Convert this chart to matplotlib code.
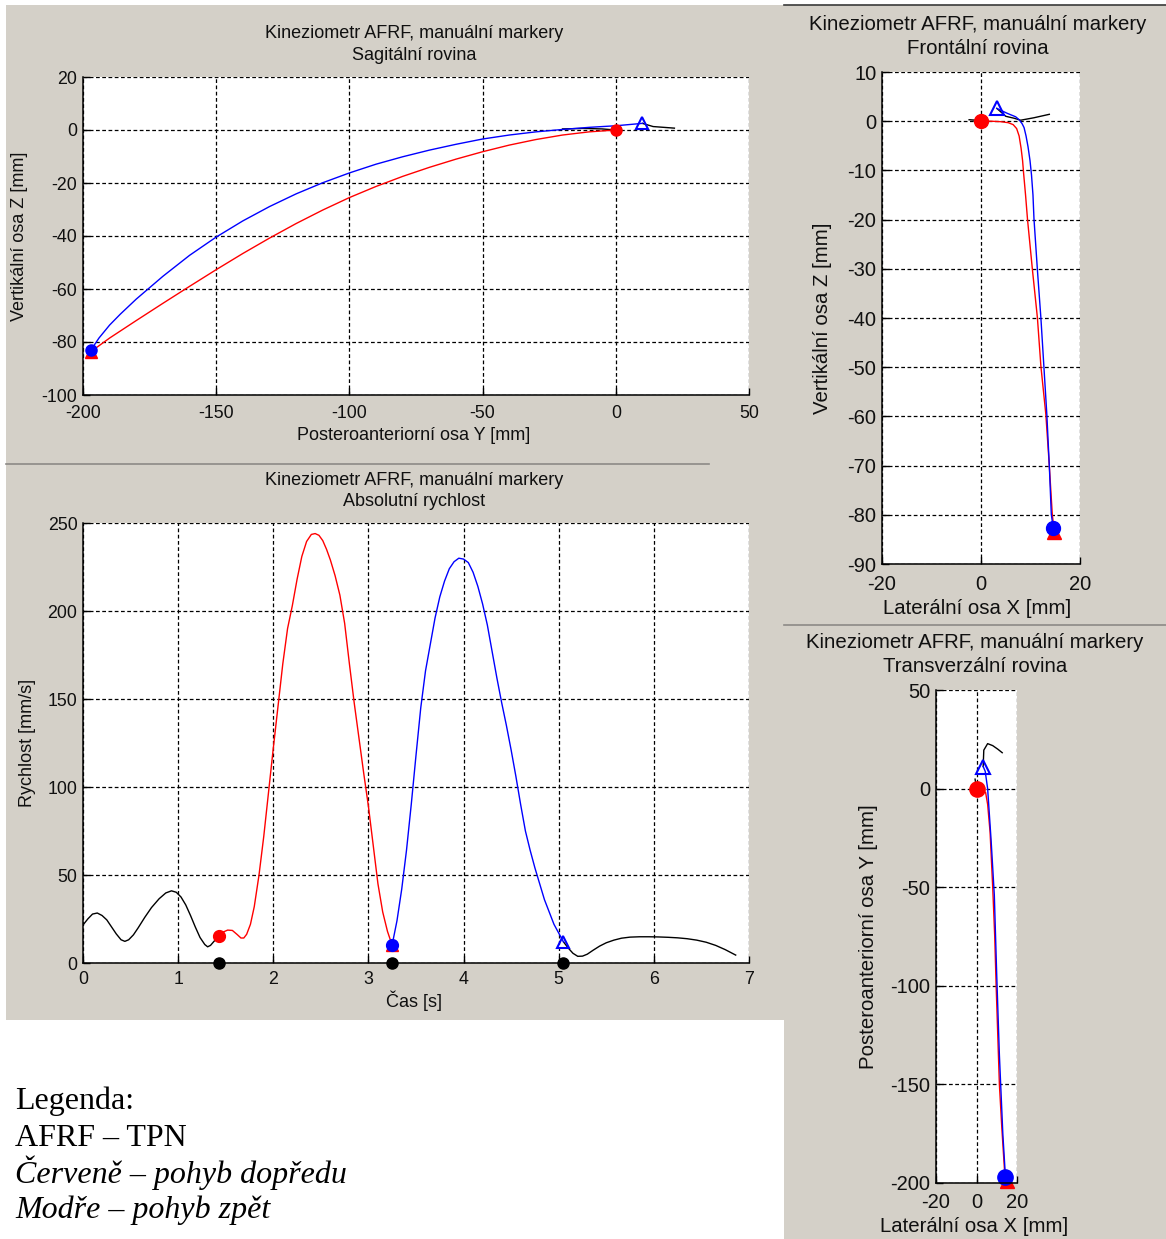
import matplotlib
matplotlib.use("Agg")
import matplotlib.pyplot as plt
from matplotlib.patches import Rectangle
from matplotlib.lines import Line2D

plt.rcParams['font.family'] = ['Liberation Sans', 'DejaVu Sans']
plt.rcParams['axes.unicode_minus'] = False

W, H = 1166, 1239
GRAY = '#d4d0c8'

# --- sagittal plane (Y, Z) [mm]
sag_red_y = [0, -10, -20, -30, -40, -50, -60, -70, -80, -90, -100, -110, -120, -130, -140, -150,
             -160, -170, -180, -190, -197]
sag_red_z = [0, -0.7, -1.9, -3.6, -5.7, -8.2, -11.0, -14.1, -17.5, -21.3, -25.5, -30.2, -35.3, -40.8,
             -46.6, -52.7, -59.0, -65.4, -71.9, -78.5, -83.6]
sag_blue_y = [-197, -194, -190, -186, -180, -170, -160, -150, -140, -130, -120, -110, -100, -90, -80,
              -70, -60, -50, -40, -30, -20, -10, 0, 10]
sag_blue_z = [-83, -78.5, -73.6, -69.5, -63.8, -55.2, -47.3, -40.4, -34.3, -28.9, -24.1, -19.9, -16.2,
              -12.9, -10.1, -7.6, -5.4, -3.4, -1.9, -0.7, 0.2, 1.0, 1.6, 2.5]
sag_pre_y = [-20, -12, -5, 0]
sag_pre_z = [0.4, 0.6, 0.4, 0]
sag_post_y = [10, 14, 18, 22]
sag_post_z = [2.5, 1.3, 1.0, 0.7]

# --- frontal plane (X, Z) [mm]
fr_red_x = [0, 2, 4, 5.5, 6.5, 7.2, 7.7, 8.1, 8.4, 8.6, 9.0, 9.4, 10.4, 11.4, 12.1, 13.1, 13.8, 14.4, 14.8]
fr_red_z = [0, 0, -0.1, -0.3, -0.7, -1.5, -3, -5.5, -8, -10.5, -15, -20, -30.3, -40, -49.8, -59.6, -70,
            -79.9, -83.5]
fr_blue_x = [14.6, 14.2, 13.8, 13.3, 12.7, 12.1, 11.4, 10.7, 10.5, 10.2, 9.9, 9.5, 9.1, 8.7, 8.3, 7.7,
             7.0, 5.3, 3.2]
fr_blue_z = [-82.7, -79.9, -70, -59.6, -49.8, -40, -30.3, -19.8, -15, -10.9, -8, -5.2, -3, -1.3, -0.5,
             0.3, 0.9, 1.6, 2.6]
fr_pre_x = [-2.4, -1, 0]
fr_pre_z = [0.3, 0.2, 0]
fr_post_x = [3.2, 5.0, 6.7, 8.0, 10.7, 13.8]
fr_post_z = [2.6, 1.0, 0.6, 0.2, 0.7, 1.4]

# --- transverse plane (X, Y) [mm]
tr_red_x = [0, 2.5, 4.5, 5.5, 6.7, 8, 9, 9.7, 10.5, 11.3, 12.5, 13.8, 15]
tr_red_y = [0, -0.3, -2, -8, -22, -50, -75, -100, -125, -150, -172, -193, -199]
tr_blue_x = [14.3, 13, 11.3, 10, 8.8, 7.2, 5.5, 4.3, 3.3]
tr_blue_y = [-197, -175, -135, -95, -54, -26, 0, 8.8, 11.2]
tr_pre_x = [-0.7, 0]
tr_pre_y = [4.8, 0]
tr_post_x = [3.3, 3.6, 5.5, 8, 10.5, 12.7]
tr_post_y = [11.2, 19.5, 22.8, 21.8, 20, 18.2]

# --- absolute speed [mm/s] over time [s]
sp_pre_t = [0, 0.05, 0.10, 0.15, 0.20, 0.25, 0.30, 0.35, 0.40, 0.44, 0.48, 0.53, 0.58, 0.65, 0.72,
            0.80, 0.87, 0.93, 0.98, 1.03, 1.08, 1.13, 1.18, 1.23, 1.28, 1.31, 1.34, 1.38, 1.43]
sp_pre_v = [21.6, 25, 27.8, 28.4, 27.0, 24.5, 20.5, 16.5, 13.2, 12.3, 13.2, 16.0, 20.0, 26.0, 31.5,
            36.5, 39.8, 41, 40.2, 37.5, 33, 27, 20.5, 14.5, 10.5, 9.2, 10, 12.5, 15.4]
sp_red_t = [1.43, 1.47, 1.52, 1.57, 1.62, 1.66, 1.69, 1.72, 1.76, 1.80, 1.85, 1.90, 1.95, 2.00, 2.05,
            2.10, 2.15, 2.20, 2.25, 2.30, 2.35, 2.40, 2.44, 2.48, 2.52, 2.56, 2.60, 2.65, 2.70, 2.75,
            2.80, 2.85, 2.90, 2.95, 3.00, 3.05, 3.10, 3.15, 3.20, 3.25]
sp_red_v = [15.4, 17.5, 18.7, 18.5, 16.2, 14.2, 14.2, 16.3, 22, 32, 50, 72, 97, 122, 146,
            170, 190, 203, 218, 231, 239.5, 243.5, 244, 243, 240, 235, 229, 220, 209, 193,
            170, 148, 128, 108, 89, 67, 45, 29, 18, 10]
sp_blue_t = [3.25, 3.30, 3.35, 3.40, 3.45, 3.50, 3.55, 3.60, 3.65, 3.70, 3.75, 3.80, 3.85, 3.90, 3.95,
             4.00, 4.05, 4.10, 4.15, 4.20, 4.25, 4.30, 4.35, 4.40, 4.45, 4.50, 4.55, 4.60, 4.65, 4.70,
             4.75, 4.80, 4.85, 4.90, 4.95, 5.00, 5.05]
sp_blue_v = [10.5, 24, 42, 64, 90, 118, 145, 166, 181, 196, 208, 217, 224, 228, 230,
             229.5, 227.5, 222, 214, 204, 192, 177, 162, 148, 135, 121, 106, 90, 75, 64,
             54, 45, 36, 29, 22, 17, 12]
sp_post_t = [5.05, 5.10, 5.15, 5.20, 5.25, 5.30, 5.36, 5.43, 5.50, 5.58, 5.66, 5.75, 5.85, 5.95, 6.05,
             6.15, 6.25, 6.35, 6.45, 6.55, 6.65, 6.75, 6.86]
sp_post_v = [12, 8.5, 5.5, 3.8, 3.9, 5, 7.2, 9.6, 11.5, 13.0, 14.1, 14.7, 14.9, 14.9, 14.8,
             14.6, 14.3, 13.8, 13.0, 11.8, 10.0, 7.6, 4.5]
sp_events = [1.43, 3.25, 5.05]

title1 = 'Kineziometr AFRF, manuální markery'


def box(l, t, r, b):
    return [l / W, 1 - b / H, (r - l) / W, (b - t) / H]


def ftext(x, y, s, size, **kw):
    fig.text(x / W, 1 - y / H, s, fontsize=size, ha='center', va='center', color='#101010', **kw)


def style(ax, fs, xpad, xlim, ylim, xticks, yticks):
    ax.set_xlim(xlim)
    ax.set_ylim(ylim)
    ax.set_xticks(xticks)
    ax.set_yticks(yticks)
    ax.grid(True, color='black', linestyle=(0, (3, 2)), linewidth=0.9)
    ax.spines['top'].set_visible(False)
    ax.spines['right'].set_visible(False)
    for s in ['left', 'bottom']:
        ax.spines[s].set_linewidth(1.1)
    ax.tick_params(direction='in', length=5, width=1, labelsize=fs, colors='black',
                   labelcolor='#101010')
    ax.tick_params(axis='y', pad=4)
    ax.tick_params(axis='x', pad=xpad)
    ax.set_axisbelow(True)


def draw_path(ax, pre, red, blue, post, ms_dot, ms_tri):
    ax.plot(*pre, color='black', lw=1)
    ax.plot(*post, color='black', lw=1)
    ax.plot(*red, color='red', lw=1)
    ax.plot(*blue, color='blue', lw=1)
    ax.plot(red[0][-1], red[1][-1], '^', color='red', ms=ms_tri, clip_on=False)
    ax.plot(red[0][0], red[1][0], 'o', color='red', ms=ms_dot, clip_on=False)
    ax.plot(blue[0][0], blue[1][0], 'o', color='blue', ms=ms_dot, clip_on=False)
    ax.plot(blue[0][-1], blue[1][-1], '^', mfc='none', mec='blue', mew=1.5, ms=ms_tri, clip_on=False)


fig = plt.figure(figsize=(W / 100, H / 100), dpi=100, facecolor='white')

# window panels
fig.patches.append(Rectangle((6 / W, 1 - 1020 / H), (784 - 6) / W, (1020 - 5) / H,
                             transform=fig.transFigure, facecolor=GRAY, edgecolor='none', zorder=-10))
fig.patches.append(Rectangle((784 / W, 0), (W - 784) / W, 1 - 5 / H,
                             transform=fig.transFigure, facecolor=GRAY, edgecolor='none', zorder=-10))
fig.lines.append(Line2D([6 / W, 709 / W], [1 - 464 / H] * 2, transform=fig.transFigure, color='#8c8a86', lw=1.2))
fig.lines.append(Line2D([784 / W, 1], [1 - 5 / H] * 2, transform=fig.transFigure, color='#3a3a3a', lw=1.2))
fig.lines.append(Line2D([784 / W, 1], [1 - 625 / H] * 2, transform=fig.transFigure, color='#8c8a86', lw=1.2))

# sagittal
ax1 = fig.add_axes(box(83, 77, 749, 395))
style(ax1, 12.8, 7, (-200, 50), (-100, 20), range(-200, 51, 50), range(-100, 21, 20))
draw_path(ax1, (sag_pre_y, sag_pre_z), (sag_red_y, sag_red_z), (sag_blue_y, sag_blue_z),
          (sag_post_y, sag_post_z), 8, 8.5)
ftext(414, 33, title1, 13)
ftext(414, 55, 'Sagitální rovina', 13)
ftext(414, 435, 'Posteroanteriorní osa Y [mm]', 13)
ftext(20, 236, 'Vertikální osa Z [mm]', 13, rotation=90)

# speed
ax2 = fig.add_axes(box(83, 523, 749, 963))
style(ax2, 12.8, 6, (0, 7), (0, 250), range(0, 8), range(0, 251, 50))
ax2.plot(sp_pre_t, sp_pre_v, color='black', lw=1)
ax2.plot(sp_post_t, sp_post_v, color='black', lw=1)
ax2.plot(sp_red_t, sp_red_v, color='red', lw=1)
ax2.plot(sp_blue_t, sp_blue_v, color='blue', lw=1)
ax2.plot(sp_red_t[-1], sp_red_v[-1], '^', color='red', ms=8.5)
ax2.plot(sp_red_t[0], sp_red_v[0], 'o', color='red', ms=8.5)
ax2.plot(sp_blue_t[0], sp_blue_v[0], 'o', color='blue', ms=8.5)
ax2.plot(sp_blue_t[-1], sp_blue_v[-1], '^', mfc='none', mec='blue', mew=1.5, ms=8.5)
ax2.plot(sp_events, [0] * len(sp_events), 'o', color='black', ms=8, clip_on=False, zorder=5)
ftext(414, 480, title1, 13)
ftext(414, 502, 'Absolutní rychlost', 13)
ftext(414, 1001, 'Čas [s]', 13)
ftext(27, 743, 'Rychlost [mm/s]', 13, rotation=90)

# frontal
ax3 = fig.add_axes(box(882, 72, 1080, 564))
style(ax3, 14.5, 8, (-20, 20), (-90, 10), [-20, 0, 20], range(-90, 11, 10))
draw_path(ax3, (fr_pre_x, fr_pre_z), (fr_red_x, fr_red_z), (fr_blue_x, fr_blue_z),
          (fr_post_x, fr_post_z), 10, 10)
ftext(978, 24, title1, 14.7)
ftext(978, 49, 'Frontální rovina', 14.7)
ftext(977, 608, 'Laterální osa X [mm]', 14.7)
ftext(822, 318, 'Vertikální osa Z [mm]', 14.7, rotation=90)

# transverse
ax4 = fig.add_axes(box(936, 690, 1017, 1183))
style(ax4, 14.5, 7, (-20, 20), (-200, 50), [-20, 0, 20], range(-200, 51, 50))
draw_path(ax4, (tr_pre_x, tr_pre_y), (tr_red_x, tr_red_y), (tr_blue_x, tr_blue_y),
          (tr_post_x, tr_post_y), 11, 10)
ftext(975, 642, title1, 14.7)
ftext(975, 667, 'Transverzální rovina', 14.7)
ftext(974, 1226, 'Laterální osa X [mm]', 14.7)
ftext(868, 937, 'Posteroanteriorní osa Y [mm]', 14.7, rotation=90)

# legend notes
notes = [('Legenda:', 'normal', 1109), ('AFRF – TPN', 'normal', 1146),
         ('Červeně – pohyb dopředu', 'italic', 1183), ('Modře – pohyb zpět', 'italic', 1218)]
for s, st, yb in notes:
    fig.text(15 / W, 1 - yb / H, s, fontsize=23, family='Liberation Serif', style=st,
             ha='left', va='baseline', color='black')

fig.savefig('out.png', dpi=100, facecolor='white')
